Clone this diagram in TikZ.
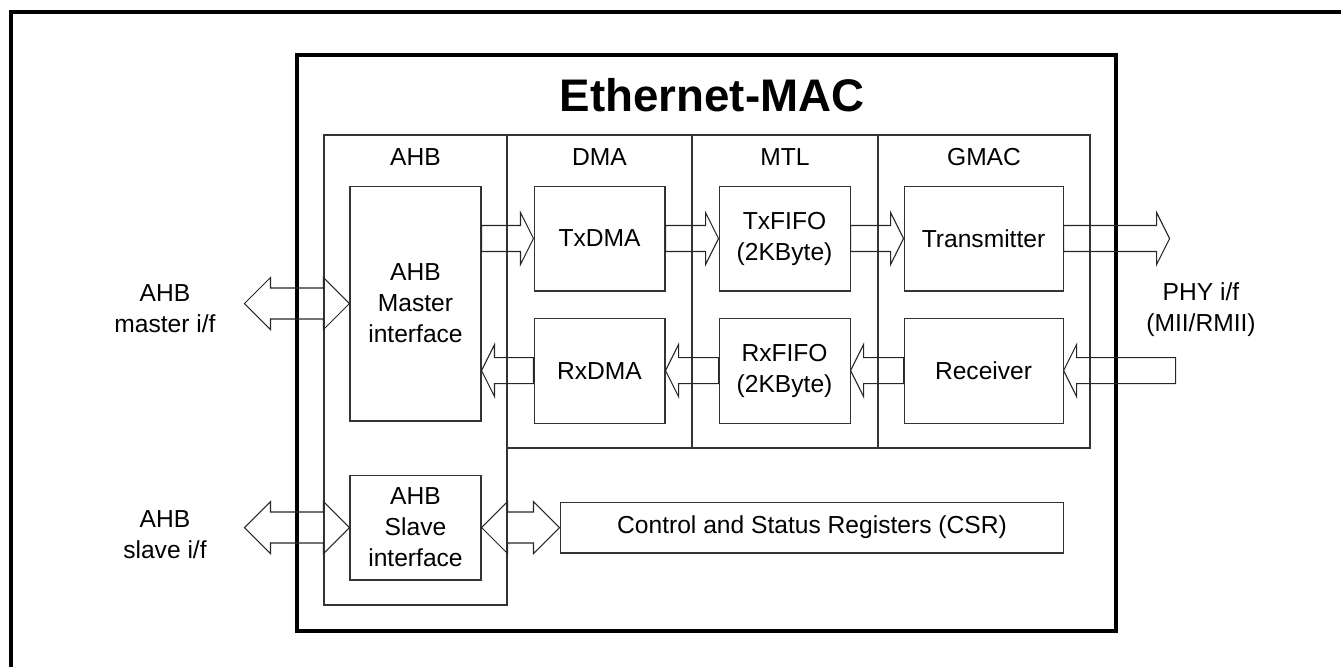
\documentclass[tikz,border=0pt]{standalone}
\usepackage{fontspec}
\setmainfont{Liberation Sans}
\usetikzlibrary{positioning,calc}
\newcommand{\txtsize}{\fontsize{14}{17.6}\selectfont}
\tikzset{
 blk/.style={draw=black!80,line width=0.6pt,align=center,font=\txtsize,
             minimum width=2.62cm,minimum height=2.1cm,inner sep=2pt},
 txt/.style={align=center,font=\txtsize,inner sep=0pt},
 macttl/.style={font=\fontsize{26}{30}\selectfont\bfseries,inner sep=0pt},
 colline/.style={draw=black!80,line width=0.6pt},
 fatline/.style={draw=black!85,line width=0.6pt,line join=miter},
 outerline/.style={line width=1.9pt},
 macline/.style={line width=2pt}
}
% wide one-way arrow: #1 tail, #2 tip
\newcommand{\fatarrow}[2]{%
  \coordinate (fa) at ($(#2)!0.26cm!(#1)$);
  \draw[fatline] ($(#1)!0.26cm!90:(#2)$) -- ($(fa)!0.26cm!90:(#2)$)
    -- ($(fa)!0.52cm!90:(#2)$) -- (#2) -- ($(fa)!0.52cm!-90:(#2)$)
    -- ($(fa)!0.26cm!-90:(#2)$) -- ($(#1)!0.26cm!-90:(#2)$) -- cycle;
}
% wide two-way arrow between #1 and #2
\newcommand{\dblarrow}[2]{%
  \coordinate (da) at ($(#1)!0.52cm!(#2)$);
  \coordinate (db) at ($(#2)!0.52cm!(#1)$);
  \draw[fatline] (#1) -- ($(da)!0.52cm!90:(#2)$) -- ($(da)!0.31cm!90:(#2)$)
    -- ($(db)!0.31cm!-90:(#1)$) -- ($(db)!0.52cm!-90:(#1)$) -- (#2)
    -- ($(db)!0.52cm!90:(#1)$) -- ($(db)!0.31cm!90:(#1)$)
    -- ($(da)!0.31cm!-90:(#2)$) -- ($(da)!0.52cm!-90:(#2)$) -- cycle;
}

\begin{document}
\begin{tikzpicture}[x=0.02cm,y=-0.02cm]
\useasboundingbox (0,0) rectangle (1341,667);
% frame and MAC outline
\draw[outerline] (11,667) -- (11,12) -- (1341,12);
\draw[macline] (297,55) rectangle (1116,631);
\node[macttl] (mac) at (712,95) {Ethernet-MAC};
% columns
\draw[colline] (324,135) rectangle (507,605);
\draw[colline] (507,135) rectangle (692,448);
\draw[colline] (692,135) rectangle (878,448);
\draw[colline] (878,135) rectangle (1090,448);
\node[txt] (hahb) at (415.5,157) {AHB};
\node[txt] (hdma) at (599.5,157) {DMA};
\node[txt] (hmtl) at (785,157) {MTL};
\node[txt] (hgmac) at (984,157) {GMAC};
% blocks
\node[blk,minimum height=4.7cm] (mst) at (415.5,303.5) {AHB\\Master\\interface};
\node[blk,right=1.04cm of mst.north east,anchor=north west] (txdma) {TxDMA};
\node[blk,right=1.06cm of txdma] (txfifo) {TxFIFO\\(2KByte)};
\node[blk,right=1.06cm of txfifo,minimum width=3.18cm] (trans) {Transmitter};
\node[blk,below=0.52cm of txdma] (rxdma) {RxDMA};
\node[blk,below=0.52cm of txfifo] (rxfifo) {RxFIFO\\(2KByte)};
\node[blk,below=0.52cm of trans,minimum width=3.18cm] (rcv) {Receiver};
\node[blk,below=1.06cm of mst] (slv) {AHB\\Slave\\interface};
\node[blk,right=1.56cm of slv,minimum width=10.08cm,minimum height=1.02cm] (csr)
  {Control and Status Registers (CSR)};
% outside interfaces
\node[txt] (ahbm) at (165,309) {AHB\\master i/f};
\node[txt] (ahbs) at (165,535) {AHB\\slave i/f};
\node[txt] (phy) at (1201,310) {PHY i/f\\(MII/RMII)};
\coordinate (mstport) at ($(mst.west)+(-105,0)$);
\coordinate (slvport) at ($(slv.west)+(-105,0)$);
\coordinate (phyout) at ($(trans.east)+(106,0)$);
\coordinate (phyin) at ($(rcv.east)+(112,0)$);
% data paths
\fatarrow{mst.east|-txdma.west}{txdma.west}
\fatarrow{txdma.east}{txfifo.west}
\fatarrow{txfifo.east}{trans.west}
\fatarrow{trans.east}{phyout}
\fatarrow{phyin}{rcv.east}
\fatarrow{rcv.west}{rxfifo.east}
\fatarrow{rxfifo.west}{rxdma.east}
\fatarrow{rxdma.west}{mst.east|-rxdma.west}
\dblarrow{mstport}{mst.west}
\dblarrow{slvport}{slv.west}
\dblarrow{slv.east}{csr.west}
\end{tikzpicture}
\end{document}
